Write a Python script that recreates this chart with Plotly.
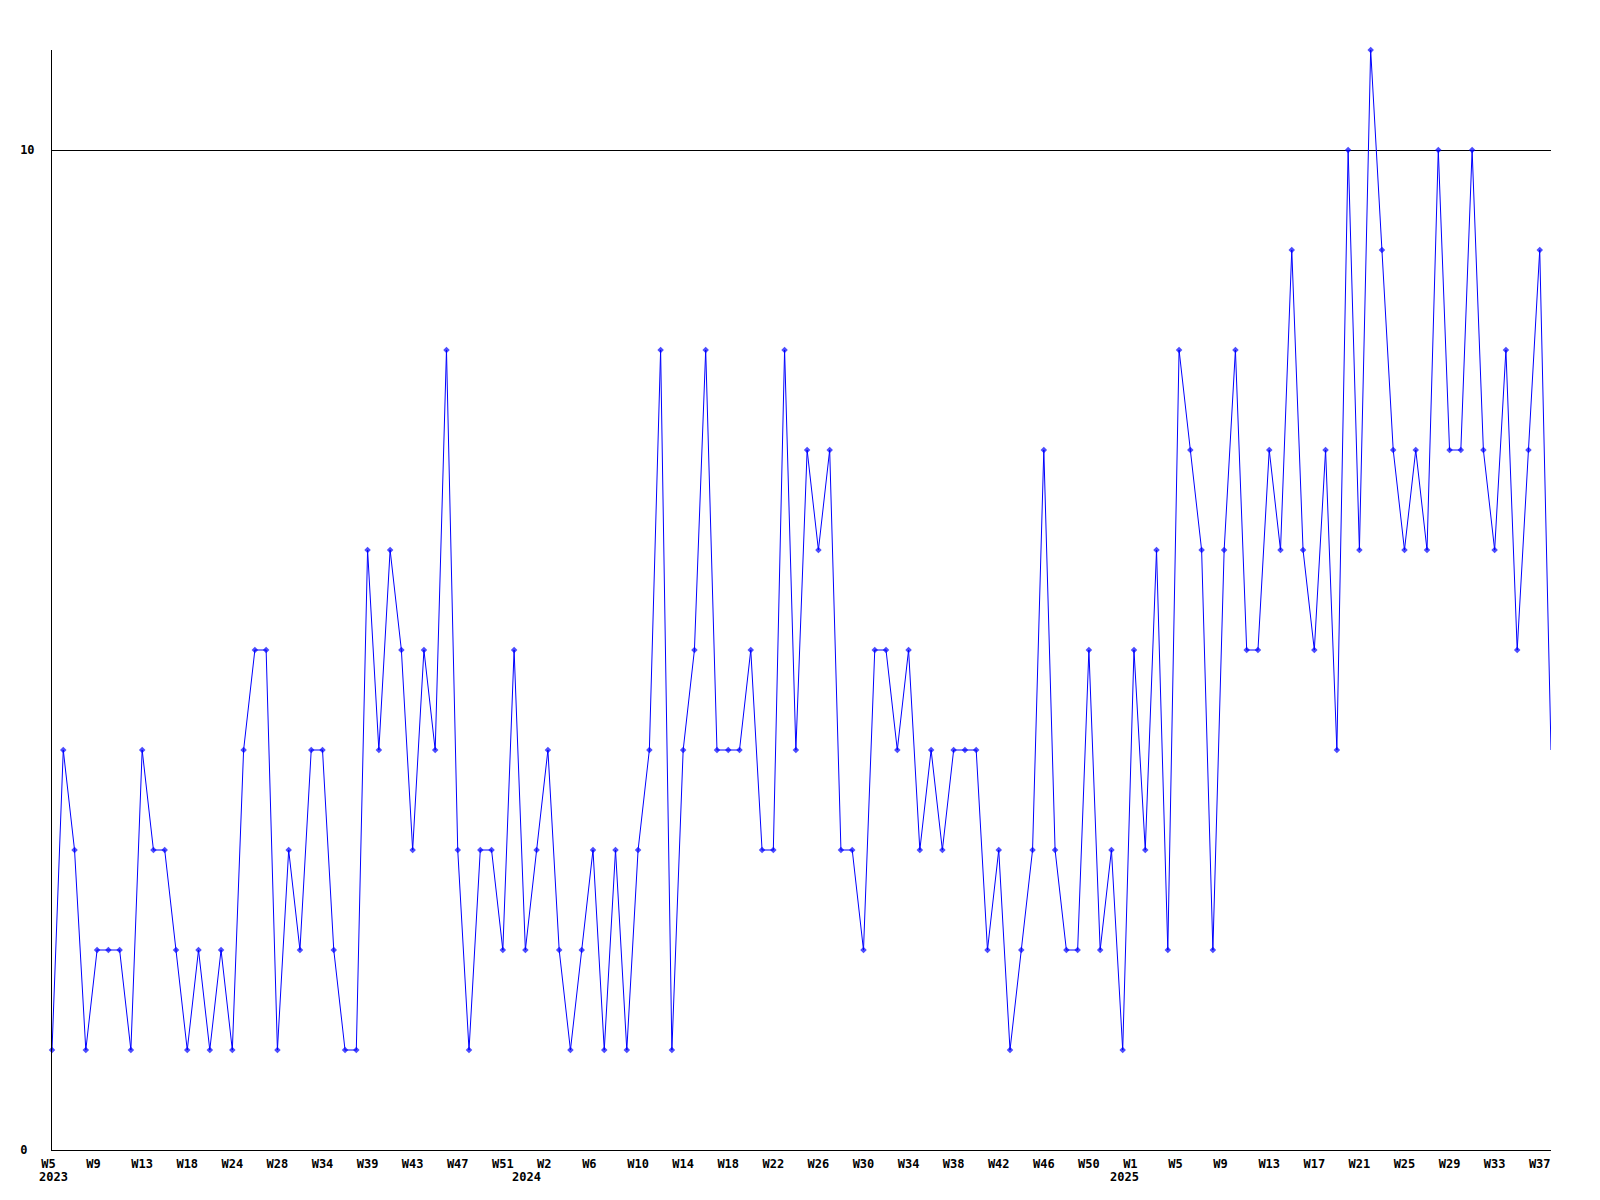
import plotly.graph_objects as go

# Week numbers present in the data, per year
weeks_2023 = [5, 6, 7, 8, 9, 10, 11, 12, 13, 14, 15, 17, 18, 19, 20, 21, 24, 25, 26, 27,
              28, 29, 30, 31, 34, 35, 36, 38, 39, 40, 41, 42, 43, 44, 45, 46, 47, 48, 49, 50,
              51, 52]
weeks_2024 = [0, 1, 2, 3, 4, 5, 6, 7, 8, 9, 10, 11, 12, 13, 14, 15, 16, 17, 18, 19, 20,
              21, 22, 23, 24, 25, 26, 27, 28, 29, 30, 31, 32, 33, 34, 35, 36, 37, 38, 39, 40,
              41, 42, 43, 44, 45, 46, 47, 48, 49, 50, 51, 52]
weeks_2025 = [0, 1, 2, 3, 4, 5, 6, 7, 8, 9, 10, 11, 12, 13, 14, 15, 16, 17, 18, 19, 20,
              21, 22, 23, 24, 25, 26, 27, 28, 29, 30, 31, 32, 33, 34, 35, 36, 37, 38]

values = [1, 4, 3, 1, 2, 2, 2, 1, 4, 3,
          3, 2, 1, 2, 1, 2, 1, 4, 5, 5,
          1, 3, 2, 4, 4, 2, 1, 1, 6, 4,
          6, 5, 3, 5, 4, 8, 3, 1, 3, 3,
          2, 5, 2, 3, 4, 2, 1, 2, 3, 1,
          3, 1, 3, 4, 8, 1, 4, 5, 8, 4,
          4, 4, 5, 3, 3, 8, 4, 7, 6, 7,
          3, 3, 2, 5, 5, 4, 5, 3, 4, 3,
          4, 4, 4, 2, 3, 1, 2, 3, 7, 3,
          2, 2, 5, 2, 3, 1, 5, 3, 6, 2,
          8, 7, 6, 2, 6, 8, 5, 5, 7, 6,
          9, 6, 5, 7, 4, 10, 6, 11, 9, 7,
          6, 7, 6, 10, 7, 7, 10, 7, 6, 8,
          5, 7, 9, 4]

y_tick_values = [0, 10]
y_tick_labels = ["0", "10"]

NBSP = "\u00a0"

# Build categories
cats, years, wks = [], [], []
for yr, wl in ((2023, weeks_2023), (2024, weeks_2024), (2025, weeks_2025)):
    for w in wl:
        cats.append(f"{yr}-W{w:02d}")
        years.append(yr)
        wks.append(w)

n = len(values)
tick_step = 4
tickvals = cats[::tick_step]
# left-aligned look: pad short labels to 3 monospace characters
ticktext = [f"W{w}".ljust(3, NBSP) for w in wks[::tick_step]]
# y labels left-aligned: pad to 2 characters
ylabels = [t.ljust(2, NBSP) for t in y_tick_labels]

FONT = dict(family="DejaVu Sans Mono", size=12, color="black", weight="bold")
BLUE = "#0000ff"

sizes = [5] * (n - 1) + [0]

fig = go.Figure()
fig.add_trace(go.Scatter(
    x=cats, y=values, mode="lines+markers",
    line=dict(color=BLUE, width=1),
    marker=dict(symbol="diamond", size=sizes, color=BLUE, line=dict(width=0)),
    cliponaxis=False, showlegend=False, hoverinfo="x+y",
))

annotations = []
prev = None
for c, yr in zip(cats, years):
    if yr != prev:
        annotations.append(dict(
            x=c, xref="x", y=0, yref="paper", yshift=-27, xshift=-15,
            text=str(yr), showarrow=False, font=FONT,
            xanchor="left", yanchor="middle",
        ))
        prev = yr

fig.update_layout(
    width=1584, height=1184,
    margin=dict(l=42, r=41, t=42, b=42),
    paper_bgcolor="white", plot_bgcolor="white",
    annotations=annotations,
    xaxis=dict(
        type="category", range=[0, n - 1], autorange=False,
        tickvals=tickvals, ticktext=ticktext, tickangle=0,
        tickfont=FONT, ticks="outside", ticklen=3, tickcolor="rgba(0,0,0,0)",
        showgrid=False, zeroline=False,
        showline=True, linecolor="black", linewidth=1,
    ),
    yaxis=dict(
        range=[0, 11], autorange=False,
        tickvals=y_tick_values, ticktext=ylabels,
        tickfont=FONT, ticks="outside", ticklen=14, tickcolor="rgba(0,0,0,0)",
        showgrid=True, gridcolor="black", gridwidth=1,
        zeroline=False, showline=True, linecolor="black", linewidth=1,
    ),
)

fig.write_html("out.html")
